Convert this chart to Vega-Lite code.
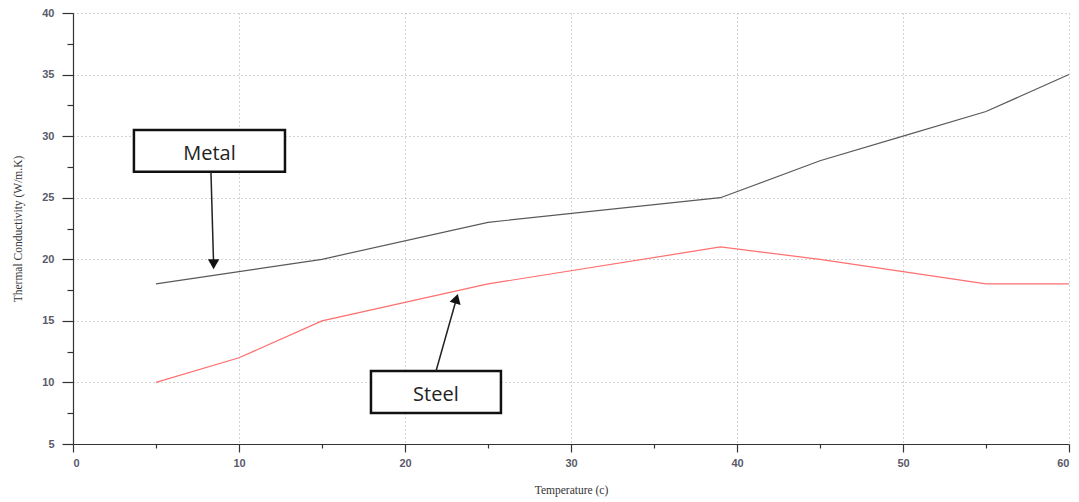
{
  "$schema": "https://vega.github.io/schema/vega-lite/v6.json",
  "width": 996,
  "height": 431,
  "autosize": {"type": "none"},
  "padding": {"left": 73, "top": 13, "right": 10, "bottom": 58},
  "background": "white",
  "config": {"view": {"stroke": null}},
  "datasets": {
    "series": [
      {"series": "Metal", "temp": 5, "k": 18},
      {"series": "Metal", "temp": 10, "k": 19},
      {"series": "Metal", "temp": 15, "k": 20},
      {"series": "Metal", "temp": 25, "k": 23},
      {"series": "Metal", "temp": 39, "k": 25},
      {"series": "Metal", "temp": 45, "k": 28},
      {"series": "Metal", "temp": 50, "k": 30},
      {"series": "Metal", "temp": 55, "k": 32},
      {"series": "Metal", "temp": 60, "k": 35},
      {"series": "Steel", "temp": 5, "k": 10},
      {"series": "Steel", "temp": 10, "k": 12},
      {"series": "Steel", "temp": 15, "k": 15},
      {"series": "Steel", "temp": 25, "k": 18},
      {"series": "Steel", "temp": 39, "k": 21},
      {"series": "Steel", "temp": 45, "k": 20},
      {"series": "Steel", "temp": 50, "k": 19},
      {"series": "Steel", "temp": 55, "k": 18},
      {"series": "Steel", "temp": 60, "k": 18}
    ],
    "boxes": [
      {"label": "Metal", "x1": 3.67, "x2": 12.77, "y1": 30.5, "y2": 27.1, "cx": 8.22, "cy": 28.55},
      {"label": "Steel", "x1": 17.95, "x2": 25.78, "y1": 10.93, "y2": 7.52, "cx": 21.86, "cy": 8.95}
    ],
    "arrows": [
      {"label": "Metal", "ax": 8.31, "ay": 27.1, "hx": 8.47, "hy": 19.6, "angle": 0},
      {"label": "Steel", "ax": 21.87, "ay": 10.93, "hx": 23.1, "hy": 16.8, "angle": 16}
    ]
  },
  "layer": [
    {
      "data": {"name": "series"},
      "mark": {"type": "line", "strokeWidth": 1.2},
      "encoding": {
        "x": {
          "field": "temp", "type": "quantitative",
          "scale": {"domain": [0, 60], "nice": false, "zero": false},
          "axis": {
            "orient": "bottom",
            "values": [0, 10, 20, 30, 40, 50, 60],
            "grid": true, "gridDash": [1, 3], "gridColor": "#aaaaaa", "gridWidth": 1,
            "domainColor": "#333", "domainWidth": 1.2,
            "tickColor": "#333", "tickSize": 8, "tickWidth": 1.2,
            "labelFont": "Liberation Sans", "labelFontWeight": "bold", "labelFontSize": 11, "labelColor": "#5a5a6a",
            "labelPadding": 5,
            "title": "Temperature (c)",
            "titleFont": "Liberation Serif", "titleFontSize": 11.5, "titleFontWeight": "normal", "titleColor": "#333",
            "titlePadding": 16
          }
        },
        "y": {
          "field": "k", "type": "quantitative",
          "scale": {"domain": [5, 40], "nice": false, "zero": false},
          "axis": {
            "orient": "left",
            "values": [5, 10, 15, 20, 25, 30, 35, 40],
            "grid": true, "gridDash": [1, 3], "gridColor": "#aaaaaa", "gridWidth": 1,
            "domainColor": "#333", "domainWidth": 1.2,
            "tickColor": "#333", "tickSize": 11, "tickWidth": 1.2,
            "labelFont": "Liberation Sans", "labelFontWeight": "bold", "labelFontSize": 11, "labelColor": "#5a5a6a",
            "labelPadding": 8,
            "title": "Thermal Conductivity (W/m.K)",
            "titleFont": "Liberation Serif", "titleFontSize": 11.5, "titleFontWeight": "normal", "titleColor": "#333",
            "titlePadding": 18
          }
        },
        "color": {
          "field": "series", "type": "nominal",
          "scale": {"domain": ["Metal", "Steel"], "range": ["#5a5a5a", "#ff6f6f"]},
          "legend": null
        }
      }
    },
    {
      "data": {"name": "boxes"},
      "mark": {"type": "rect", "fill": "white", "stroke": "#111", "strokeWidth": 2.5},
      "encoding": {
        "x": {
          "field": "x1", "type": "quantitative",
          "axis": {
            "orient": "bottom",
            "values": [5, 15, 25, 35, 45, 55],
            "grid": false, "domain": false, "labels": false, "title": null,
            "tickColor": "#333", "tickSize": 4, "tickWidth": 1.2
          }
        },
        "x2": {"field": "x2"},
        "y": {
          "field": "y1", "type": "quantitative",
          "axis": {
            "orient": "left",
            "values": [7.5, 12.5, 17.5, 22.5, 27.5, 32.5, 37.5],
            "grid": false, "domain": false, "labels": false, "title": null,
            "tickColor": "#333", "tickSize": 6, "tickWidth": 1.2
          }
        },
        "y2": {"field": "y2"}
      }
    },
    {
      "data": {"name": "boxes"},
      "mark": {"type": "text", "font": "Open Sans", "fontSize": 20, "color": "#222", "align": "center", "baseline": "middle"},
      "encoding": {
        "x": {"field": "cx", "type": "quantitative", "axis": null},
        "y": {"field": "cy", "type": "quantitative", "axis": null},
        "text": {"field": "label"}
      }
    },
    {
      "data": {"name": "arrows"},
      "mark": {"type": "rule", "color": "#222", "strokeWidth": 1.5},
      "encoding": {
        "x": {"field": "ax", "type": "quantitative", "axis": null},
        "y": {"field": "ay", "type": "quantitative", "axis": null},
        "x2": {"field": "hx"},
        "y2": {"field": "hy"}
      }
    },
    {
      "data": {"name": "arrows"},
      "mark": {"type": "point", "shape": "triangle-down", "filled": true, "color": "#111", "size": 130, "opacity": 1},
      "transform": [{"filter": "datum.label == 'Metal'"}],
      "encoding": {
        "x": {"field": "hx", "type": "quantitative", "axis": null},
        "y": {"field": "hy", "type": "quantitative", "axis": null}
      }
    },
    {
      "data": {"name": "arrows"},
      "mark": {"type": "point", "shape": "triangle-up", "filled": true, "color": "#111", "size": 130, "opacity": 1, "angle": 16},
      "transform": [{"filter": "datum.label == 'Steel'"}],
      "encoding": {
        "x": {"field": "hx", "type": "quantitative", "axis": null},
        "y": {"field": "hy", "type": "quantitative", "axis": null}
      }
    }
  ],
  "resolve": {"axis": {"x": "independent", "y": "independent"}}
}
